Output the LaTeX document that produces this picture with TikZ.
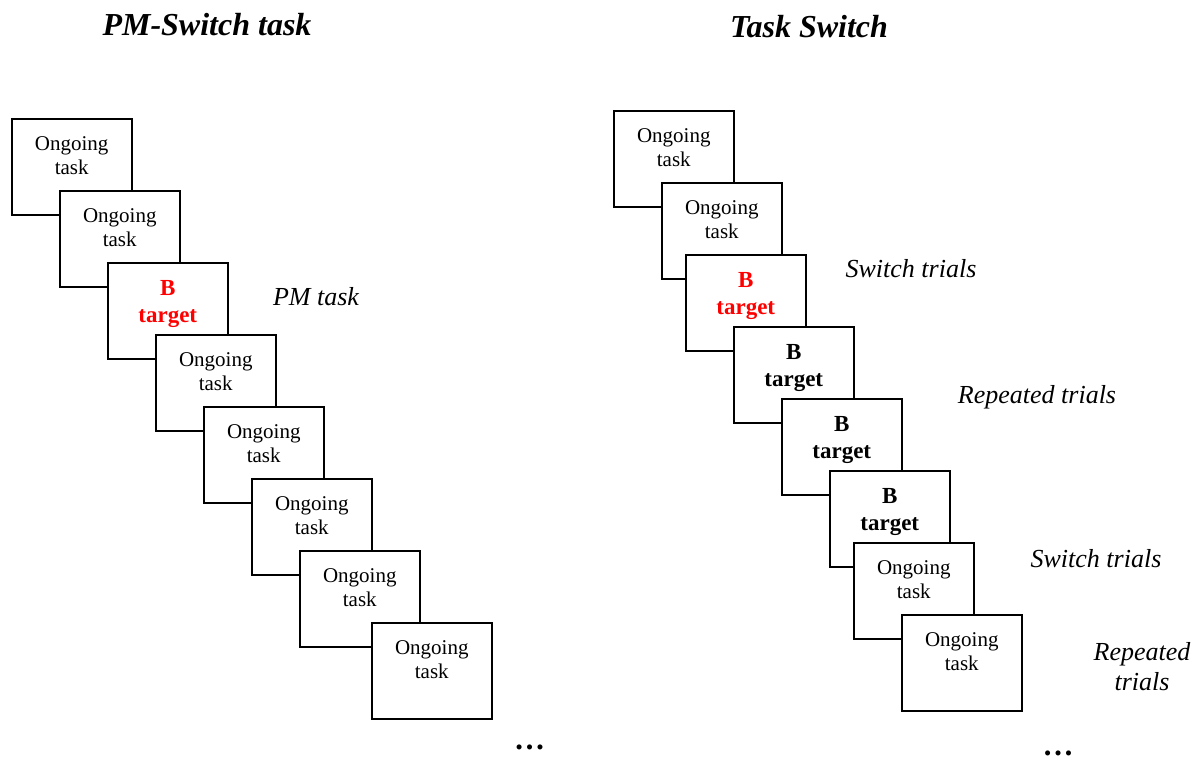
\documentclass[tikz,border=0pt]{standalone}
\usepackage{fontspec}
\setmainfont{Liberation Serif}
\newcommand\ongtxt{\parbox[t][96pt][t]{120pt}{\centering\fontsize{21}{23.5}\selectfont\rule{0pt}{32pt}Ongoing\\task}}
\newcommand\bttxt{\parbox[t][96pt][t]{120pt}{\centering\fontsize{23}{27}\selectfont\bfseries\rule{0pt}{33pt}B\\target}}
\begin{document}
\begin{tikzpicture}[x=1pt,y=-1pt,
  card/.style={draw, line width=1.5pt, fill=white, anchor=north west, inner sep=0pt},
  redtxt/.style={text=red},
  lab/.style={font=\fontsize{26}{30}\selectfont\itshape, anchor=base, inner sep=0pt},
  ttl/.style={font=\fontsize{32}{36}\selectfont\bfseries\itshape, anchor=base, inner sep=0pt},
  dots/.style={font=\fontsize{31}{36}\selectfont\bfseries, inner sep=0pt}]
\useasboundingbox (0,0) rectangle (1200,760);
% titles
\node[ttl] (t1) at (207,36) {PM-Switch task};
\node[ttl] (t2) at (809,38) {Task Switch};
% left column
\node[card] (L1) at (11,118) {\ongtxt};
\node[card] (L2) at (59,190) {\ongtxt};
\node[card,redtxt] (L3) at (107,262) {\bttxt};
\node[card] (L4) at (155,334) {\ongtxt};
\node[card] (L5) at (203,406) {\ongtxt};
\node[card] (L6) at (251,478) {\ongtxt};
\node[card] (L7) at (299,550) {\ongtxt};
\node[card] (L8) at (371,622) {\ongtxt};
\node[lab] (pm) at (316,305) {PM task};
\node[dots] (d1) at (529.5,747) {…};
% right column
\node[card] (R1) at (613,110) {\ongtxt};
\node[card] (R2) at (661,182) {\ongtxt};
\node[card,redtxt] (R3) at (685,254) {\bttxt};
\node[card] (R4) at (733,326) {\bttxt};
\node[card] (R5) at (781,398) {\bttxt};
\node[card] (R6) at (829,470) {\bttxt};
\node[card] (R7) at (853,542) {\ongtxt};
\node[card] (R8) at (901,614) {\ongtxt};
\node[lab] (s1) at (911,277) {Switch trials};
\node[lab] (r1) at (1037,403) {Repeated trials};
\node[lab] (s2) at (1096,567) {Switch trials};
\node[lab] (r2) at (1142,660) {\begin{tabular}[t]{@{}c@{}}Repeated\\[0pt]trials\end{tabular}};
\node[dots] (d2) at (1058,753) {…};
\end{tikzpicture}
\end{document}
